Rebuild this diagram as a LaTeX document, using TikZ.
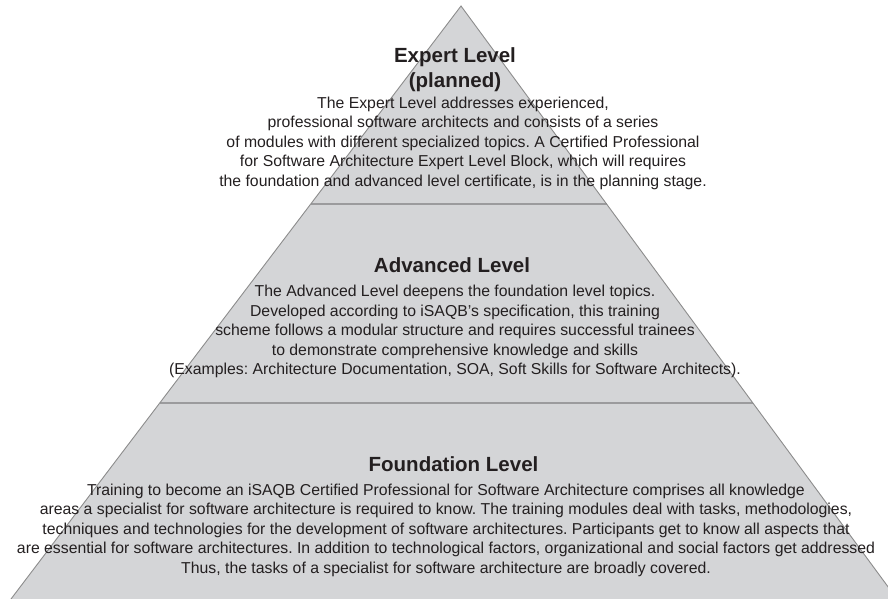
\documentclass[tikz,border=0pt]{standalone}
\usepackage{fontspec}
\setmainfont{Liberation Sans}
\usetikzlibrary{calc}
\frenchspacing
\definecolor{pyrfill}{RGB}{212,213,215}
\definecolor{pyredge}{RGB}{140,140,140}
\definecolor{pyrsep}{RGB}{155,155,157}
\definecolor{pyrtext}{RGB}{35,31,32}
\begin{document}
\begin{tikzpicture}[x=1pt,y=-1pt,
  % multi-line nodes are placed by the baseline of their last line
  leveltitle/.style={anchor=base,inner sep=0pt,align=center,text=pyrtext,
    font=\fontsize{20.5}{25}\selectfont\bfseries},
  levelbody/.style={anchor=base,inner sep=0pt,align=center,text=pyrtext,
    font=\fontsize{15.8}{19.5}\selectfont},
  separator/.style={draw=pyrsep,line width=1.8pt}]
\useasboundingbox (0,0) rectangle (888,599);
\clip (0,0) rectangle (888,599);
% pyramid outline
\coordinate (apex) at (461,6);
\coordinate (bl) at (11,599);
\coordinate (br) at (897,599);
\coordinate (blx) at ($(apex)!1.05!(bl)$);
\coordinate (brx) at ($(apex)!1.05!(br)$);
\fill[pyrfill] (apex) -- (blx) -- (brx) -- cycle;
% level separators
\coordinate (s1l) at ($(apex)!0.3344!(bl)$);
\coordinate (s1r) at ($(apex)!0.3344!(br)$);
\coordinate (s2l) at ($(apex)!0.6695!(bl)$);
\coordinate (s2r) at ($(apex)!0.6695!(br)$);
\draw[separator] (s1l) -- (s1r);
\draw[separator] (s2l) -- (s2r);
\draw[pyredge,line width=0.9pt] (blx) -- (apex) -- (brx);
% expert level
\node[leveltitle] (t1) at (455,87.7) {Expert Level\\(planned)};
\node[levelbody] (b1) at (463,186) {The Expert Level addresses experienced,\\
professional software architects and consists of a series\\
of modules with different specialized topics. A Certified Professional\\
for Software Architecture Expert Level Block, which will requires\\
the foundation and advanced level certificate, is in the planning stage.};
% advanced level
\node[leveltitle] (t2) at (452,272.7) {Advanced Level};
\node[levelbody] (b2) at (455,374.7) {The Advanced Level deepens the foundation level topics.\\
Developed according to iSAQB’s specification, this training\\
scheme follows a modular structure and requires successful trainees\\
to demonstrate comprehensive knowledge and skills\\
(Examples: Architecture Documentation, SOA, Soft Skills for Software Architects).};
% foundation level
\node[leveltitle] (t3) at (453.5,471.7) {Foundation Level};
\node[levelbody] (b3) at (446,573) {Training to become an iSAQB Certified Professional for Software Architecture comprises all knowledge\\
areas a specialist for software architecture is required to know. The training modules deal with tasks, methodologies,\\
techniques and technologies for the development of software architectures. Participants get to know all aspects that\\
are essential for software architectures. In addition to technological factors, organizational and social factors get addressed\\
Thus, the tasks of a specialist for software architecture are broadly covered.};
\end{tikzpicture}
\end{document}
